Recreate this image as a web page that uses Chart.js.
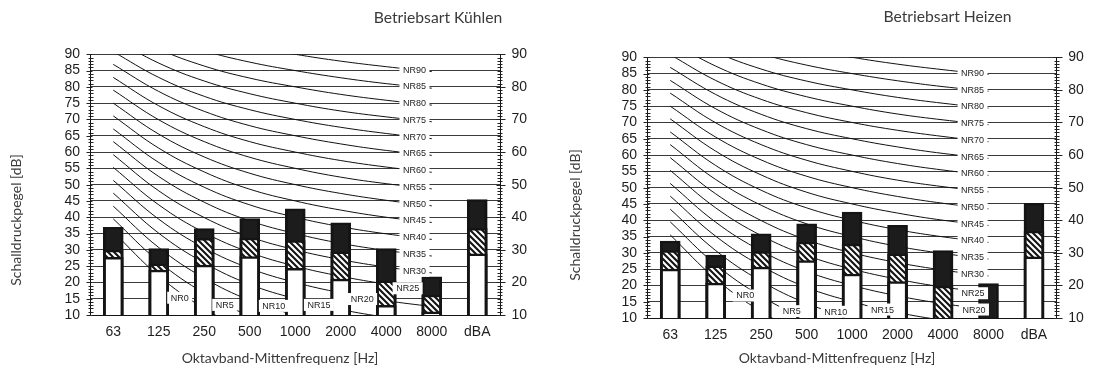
<!DOCTYPE html>
<html>
<head>
<meta charset="utf-8">
<script src="https://cdn.jsdelivr.net/npm/chart.js@4.4.1/dist/chart.umd.min.js"></script>
<style>
  html, body { margin: 0; padding: 0; background: #fff; }
  #wrap { position: relative; width: 1093px; height: 367px; overflow: hidden; }
  .panel { position: absolute; height: 367px; }
  #p1 { left: 0; top: 0; width: 556px; }
  #p2 { left: 557px; top: 3px; width: 536px; }
</style>
</head>
<body>
<div id="wrap">
  <div class="panel" id="p1"><canvas id="c1"></canvas></div>
  <div class="panel" id="p2"><canvas id="c2"></canvas></div>
</div>
<script>
// Octave band centre frequencies plus the A-weighted total
const bands = ['63', '125', '250', '500', '1000', '2000', '4000', '8000', 'dBA'];

// Sound pressure levels [dB] for the three fan stages, cooling mode
const coolLow  = [27.7, 23.8, 25.3, 27.9, 24.3, 21.0, 13.0, 11.0, 28.8];
const coolMid  = [29.9, 25.7, 33.5, 33.6, 32.8, 29.4, 20.5, 16.1, 36.6];
const coolHigh = [36.9, 30.4, 36.5, 39.6, 42.6, 38.3, 30.4, 21.7, 45.4];

// Sound pressure levels [dB] for the three fan stages, heating mode
const heatLow  = [25.0, 20.7, 25.6, 27.6, 23.5, 21.2, null, null, 28.8];
const heatMid  = [30.7, 26.0, 30.4, 33.3, 32.7, 29.7, 19.8, null, 36.7];
const heatHigh = [33.6, 29.3, 35.8, 38.9, 42.5, 38.4, 30.7, 20.6, 45.2];

// Noise rating curves NR0 ... NR90, levels at 63 ... 8000 Hz
const nrNames = ['NR0','NR5','NR10','NR15','NR20','NR25','NR30','NR35','NR40','NR45',
                 'NR50','NR55','NR60','NR65','NR70','NR75','NR80','NR85','NR90'];
const nrCurves = [
  [35.5, 22.0, 12.0,  4.8,  0.0, -3.5, -6.1, -8.0],
  [39.5, 26.4, 16.7,  9.7,  5.0,  1.6, -1.0, -2.9],
  [43.4, 30.7, 21.3, 14.5, 10.0,  6.7,  4.2,  2.3],
  [47.4, 35.1, 26.0, 19.4, 15.0, 11.7,  9.3,  7.5],
  [51.3, 39.4, 30.6, 24.3, 20.0, 16.8, 14.4, 12.6],
  [55.3, 43.8, 35.3, 29.2, 25.0, 21.9, 19.5, 17.8],
  [59.2, 48.1, 39.9, 34.0, 30.0, 27.0, 24.7, 22.9],
  [63.2, 52.5, 44.6, 38.9, 35.0, 32.0, 29.8, 28.1],
  [67.1, 56.8, 49.2, 43.8, 40.0, 37.1, 34.9, 33.2],
  [71.1, 61.2, 53.9, 48.6, 45.0, 42.2, 40.0, 38.4],
  [75.0, 65.5, 58.5, 53.5, 50.0, 47.3, 45.2, 43.5],
  [79.0, 69.9, 63.2, 58.4, 55.0, 52.3, 50.3, 48.7],
  [82.9, 74.2, 67.8, 63.2, 60.0, 57.4, 55.4, 53.8],
  [86.9, 78.6, 72.5, 68.1, 65.0, 62.5, 60.5, 59.0],
  [90.8, 82.9, 77.1, 73.0, 70.0, 67.6, 65.7, 64.1],
  [94.8, 87.3, 81.8, 77.9, 75.0, 72.6, 70.8, 69.3],
  [98.7, 91.6, 86.4, 82.7, 80.0, 77.7, 75.9, 74.4],
  [102.7, 96.0, 91.1, 87.6, 85.0, 82.8, 81.0, 79.6],
  [106.6, 100.3, 95.7, 92.5, 90.0, 87.9, 86.2, 84.7]
];

// Where the curve names sit: position along the band axis (in band steps)
// and, for the lowest curves, the level the tag is centred on
const coolTagPos = [1.46, 2.45, 3.53, 4.52, 5.47, 6.47];
const coolTagLvl = [15.3, 13.1, 12.8, 13.1, 14.9, 18.2];
const heatTagPos = [1.65, 2.67, 3.64, 4.67, 6.68, 6.66];
const heatTagLvl = [16.9, 12.1, 11.9, 12.6, 12.6, 17.6];
const coolUpperPos = 6.62;
const heatUpperPos = 6.65;

const tickFont = '"Liberation Sans", Arial, sans-serif';
const titleFont = 'Lato, "Open Sans", sans-serif';

function hatchPattern() {
  const c = document.createElement('canvas');
  c.width = 6; c.height = 6;
  const g = c.getContext('2d');
  g.fillStyle = '#fff';
  g.fillRect(0, 0, 6, 6);
  g.strokeStyle = '#141414';
  g.lineWidth = 2.1;
  g.beginPath();
  g.moveTo(-2, -2); g.lineTo(8, 8);
  g.moveTo(-2, 4); g.lineTo(2, 8);
  g.moveTo(4, -2); g.lineTo(8, 2);
  g.stroke();
  return g.createPattern(c, 'repeat');
}

// Level of a curve at a fractional band position (straight between band points)
function levelAt(curve, pos) {
  const i = Math.min(Math.floor(pos), curve.length - 2);
  const t = pos - i;
  return curve[i] + t * (curve[i + 1] - curve[i]);
}

function buildTags(tagPos, tagLvl, upperPos) {
  return nrNames.map((name, i) => {
    if (i < tagPos.length) return { text: name, pos: tagPos[i], lvl: tagLvl[i] };
    return { text: name, pos: upperPos, lvl: levelAt(nrCurves[i], upperPos) };
  });
}

// White-backed curve names drawn over the plot
const nrTagPlugin = {
  id: 'nrTags',
  afterDatasetsDraw(chart, args, opts) {
    const { ctx, scales: { x, y } } = chart;
    const x0 = x.getPixelForValue(0);
    const step = x.getPixelForValue(1) - x0;
    ctx.save();
    ctx.font = '9px ' + tickFont;
    ctx.textAlign = 'center';
    ctx.textBaseline = 'middle';
    opts.items.forEach(it => {
      const px = x0 + it.pos * step;
      const py = y.getPixelForValue(it.lvl);
      const w = ctx.measureText(it.text).width + 7;
      const h = 12;
      ctx.fillStyle = '#fff';
      ctx.fillRect(px - w / 2, py - h / 2, w, h);
      ctx.fillStyle = '#222';
      ctx.fillText(it.text, px, py + 0.5);
    });
    ctx.restore();
  }
};

// Fine graduation across both vertical axes
const graduationPlugin = {
  id: 'graduation',
  afterDraw(chart) {
    const { ctx, chartArea: a, scales: { y } } = chart;
    const lx = Math.round(a.left) + 0.5;
    const rx = Math.round(a.right) + 0.5;
    ctx.save();
    ctx.strokeStyle = '#222';
    ctx.lineWidth = 1;
    ctx.beginPath();
    for (let v = y.min; v <= y.max + 1e-6; v += 1) {
      const py = Math.round(y.getPixelForValue(v)) + 0.5;
      const m5 = v % 5 === 0;
      const m10 = v % 10 === 0;
      ctx.moveTo(lx - (m5 ? 5 : 3), py);
      ctx.lineTo(lx + (m5 ? 1 : 2), py);
      ctx.moveTo(rx - (m10 ? 4 : 3), py);
      ctx.lineTo(rx + (m10 ? 5 : 2), py);
    }
    ctx.stroke();
    ctx.restore();
  }
};

// Panel heading and axis captions
const captionPlugin = {
  id: 'captions',
  afterDraw(chart, args, o) {
    const { ctx } = chart;
    ctx.save();
    ctx.fillStyle = '#3a3a3a';
    ctx.textAlign = 'center';
    ctx.textBaseline = 'middle';
    ctx.font = '15.7px ' + titleFont;
    ctx.fillText(o.title, o.titleX, o.titleY);
    ctx.font = '14px ' + titleFont;
    ctx.fillText('Oktavband-Mittenfrequenz [Hz]', o.xTitleX, o.xTitleY);
    ctx.translate(o.yTitleX, o.yTitleY);
    ctx.rotate(-Math.PI / 2);
    ctx.fillText('Schalldruckpegel [dB]', 0, 0);
    ctx.restore();
  }
};

function makePanel(canvasId, low, mid, high, tags, cap, rightWidth) {
  const hatch = hatchPattern();
  const barBase = {
    type: 'bar',
    grouped: false,
    barThickness: 20,
    borderColor: '#141414',
    borderWidth: { top: 2.5, left: 3, right: 3, bottom: 1 },
    borderSkipped: false
  };
  const curveSets = nrCurves.map((c, i) => ({
    type: 'line',
    label: nrNames[i],
    data: c,
    borderColor: '#111',
    borderWidth: 1,
    pointRadius: 0,
    tension: 0.4,
    fill: false,
    order: 3 + i
  }));
  const tickStyle = { color: '#1e1e1e', font: { family: tickFont, size: 14, lineHeight: 1 }, autoSkip: false };
  return new Chart(document.getElementById(canvasId), {
    type: 'bar',
    data: {
      labels: bands,
      datasets: [
        Object.assign({}, barBase, { label: 'Stufe 1', data: low, backgroundColor: '#fff', order: 0 }),
        Object.assign({}, barBase, { label: 'Stufe 2', data: mid, backgroundColor: hatch, order: 1 }),
        Object.assign({}, barBase, { label: 'Stufe 3', data: high, backgroundColor: '#1c1c1c', order: 2 }),
        ...curveSets
      ]
    },
    options: {
      responsive: true,
      maintainAspectRatio: false,
      animation: false,
      layout: { padding: { top: 54.3, left: 0, right: 0, bottom: 0 } },
      plugins: {
        legend: { display: false },
        tooltip: { enabled: false },
        nrTags: { items: tags },
        captions: cap
      },
      scales: {
        x: {
          offset: true,
          grid: { display: false, drawTicks: false },
          border: { display: true, color: '#141414' },
          ticks: Object.assign({}, tickStyle, { padding: 10, maxRotation: 0 }),
          afterFit(s) { s.height = 52; }
        },
        y: {
          position: 'left',
          min: 10, max: 90,
          ticks: Object.assign({}, tickStyle, { stepSize: 5, padding: 10.5 }),
          grid: { color: '#3a3a3a', lineWidth: 1, drawTicks: false },
          border: { color: '#141414' },
          afterFit(s) { s.width = 90.5; }
        },
        y2: {
          position: 'right',
          min: 10, max: 90,
          ticks: Object.assign({}, tickStyle, { stepSize: 10, padding: 11.5 }),
          grid: { drawOnChartArea: false, drawTicks: false },
          border: { color: '#141414' },
          afterFit(s) { s.width = rightWidth; }
        }
      }
    },
    plugins: [nrTagPlugin, graduationPlugin, captionPlugin]
  });
}

makePanel('c1', coolLow, coolMid, coolHigh,
  buildTags(coolTagPos, coolTagLvl, coolUpperPos),
  { title: 'Betriebsart Kühlen', titleX: 438, titleY: 18.3,
    xTitleX: 280, xTitleY: 358, yTitleX: 16, yTitleY: 220 },
  56);

makePanel('c2', heatLow, heatMid, heatHigh,
  buildTags(heatTagPos, heatTagLvl, heatUpperPos),
  { title: 'Betriebsart Heizen', titleX: 390.5, titleY: 14,
    xTitleX: 280, xTitleY: 355, yTitleX: 18, yTitleY: 212 },
  36.3);
</script>
</body>
</html>
